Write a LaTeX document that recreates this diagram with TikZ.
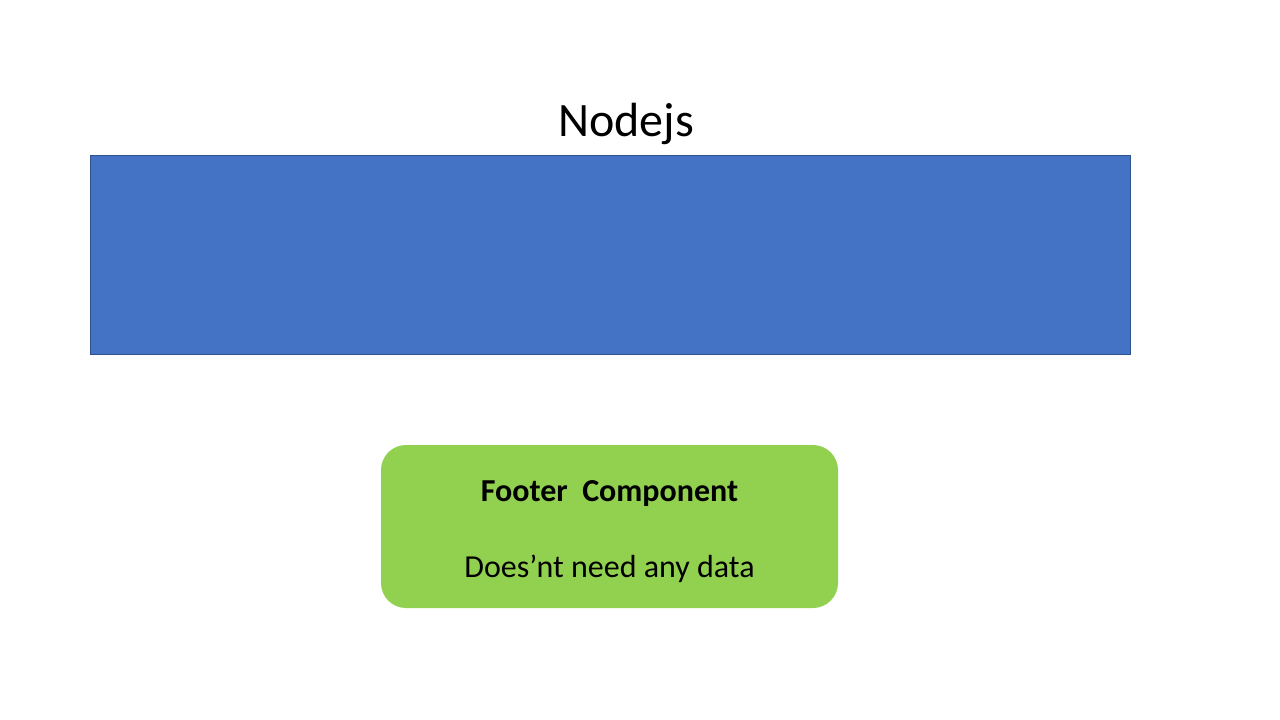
\documentclass[tikz,border=0pt]{standalone}
\usepackage{fontspec}
\setmainfont{Carlito}
\usetikzlibrary{
  positioning,  % Function "of" (e.g. [below=of x])
}
\definecolor{nodeblue}{HTML}{4472C4}
\definecolor{nodeblueline}{HTML}{2F528F}
\definecolor{footergreen}{HTML}{92D050}
\tikzset{
  x=0.75pt,
  y=-0.75pt,
  my title/.style={
    inner sep=0mm,
    font=\fontsize{36}{43}\selectfont
  },
  my server/.style={
    draw=nodeblueline,
    fill=nodeblue,
    line width=0.75pt,
    minimum width=780pt,
    minimum height=148.5pt,
    inner sep=0mm,
    rectangle
  },
  my component/.style={
    fill=footergreen,
    minimum width=342.75pt,
    minimum height=122.25pt,
    rounded corners=18.75pt,
    inner sep=0mm,
    rectangle
  },
  my component text/.style={
    align=center,
    font=\fontsize{24}{29}\selectfont,
    inner sep=0mm
  }
}
\begin{document}
\begin{tikzpicture}
\useasboundingbox (0,0) rectangle (1280,720);
\node[my server]         (nodejs)     at (610,255)     {};
\node[my title]          (title)      at (626,124)     {Nodejs};
\node[my component]      (footer)     at (609.5,526.5) {};
\node[my component text] (footertext) at ([yshift=-3.5pt]footer.center)
  {\textbf{Footer\ \ Component}\\[28pt]
   Does’nt need any data};
\end{tikzpicture}
\end{document}
